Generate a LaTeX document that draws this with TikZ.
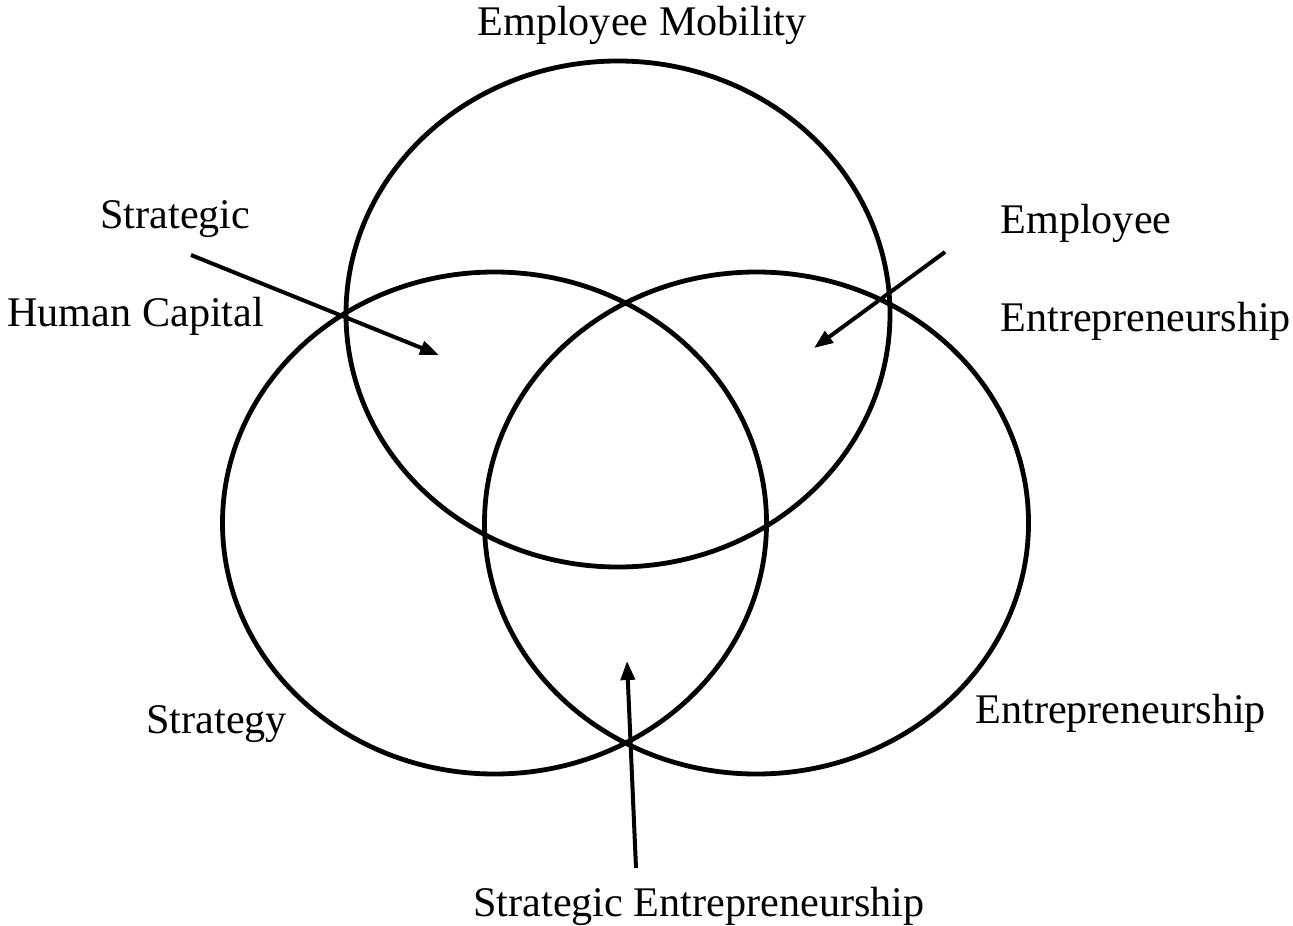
\documentclass[tikz,border=0pt]{standalone}
\usepackage{fontspec}
\setmainfont{Liberation Serif}
\usetikzlibrary{arrows.meta}
\begin{document}
\begin{tikzpicture}[x=0.5pt,y=-0.5pt,
  setline/.style={line width=2.4pt},
  lbl/.style={font=\fontsize{21.1}{25}\selectfont, inner sep=0pt, anchor=base west},
  pointer/.style={line width=2pt,-{Triangle[length=9.5pt,width=7pt]}}]
\useasboundingbox (0,0) rectangle (1293,925);

% the three sets
\draw[setline] (618,314) ellipse [x radius=136pt, y radius=126.5pt];
\draw[setline] (494.5,523) ellipse [x radius=136pt, y radius=125.5pt];
\draw[setline] (756.5,523) ellipse [x radius=136pt, y radius=125.5pt];

% set and overlap labels
\node[lbl] (mob)   at (477,36)  {Employee Mobility};
\node[lbl] (shc1)  at (100,228) {Strategic};
\node[lbl] (shc2)  at (7,326)   {Human Capital};
\node[lbl] (ee1)   at (1000,233){Employee};
\node[lbl] (ee2)   at (1000,331){Entrepreneurship};
\node[lbl] (strat) at (146,733) {Strategy};
\node[lbl] (entr)  at (975,723) {Entrepreneurship};
\node[lbl] (se)    at (473,916) {Strategic Entrepreneurship};

% pointers into the overlaps
\coordinate (shcTail) at (191,255);
\coordinate (shcHead) at (439,355);
\coordinate (eeTail)  at (945,252);
\coordinate (eeHead)  at (814,348);
\coordinate (seTail)  at (636,868);
\coordinate (seHead)  at (627,661);
\draw[pointer] (shcTail) -- (shcHead);
\draw[pointer] (eeTail) -- (eeHead);
\draw[pointer] (seTail) -- (seHead);
\end{tikzpicture}
\end{document}
